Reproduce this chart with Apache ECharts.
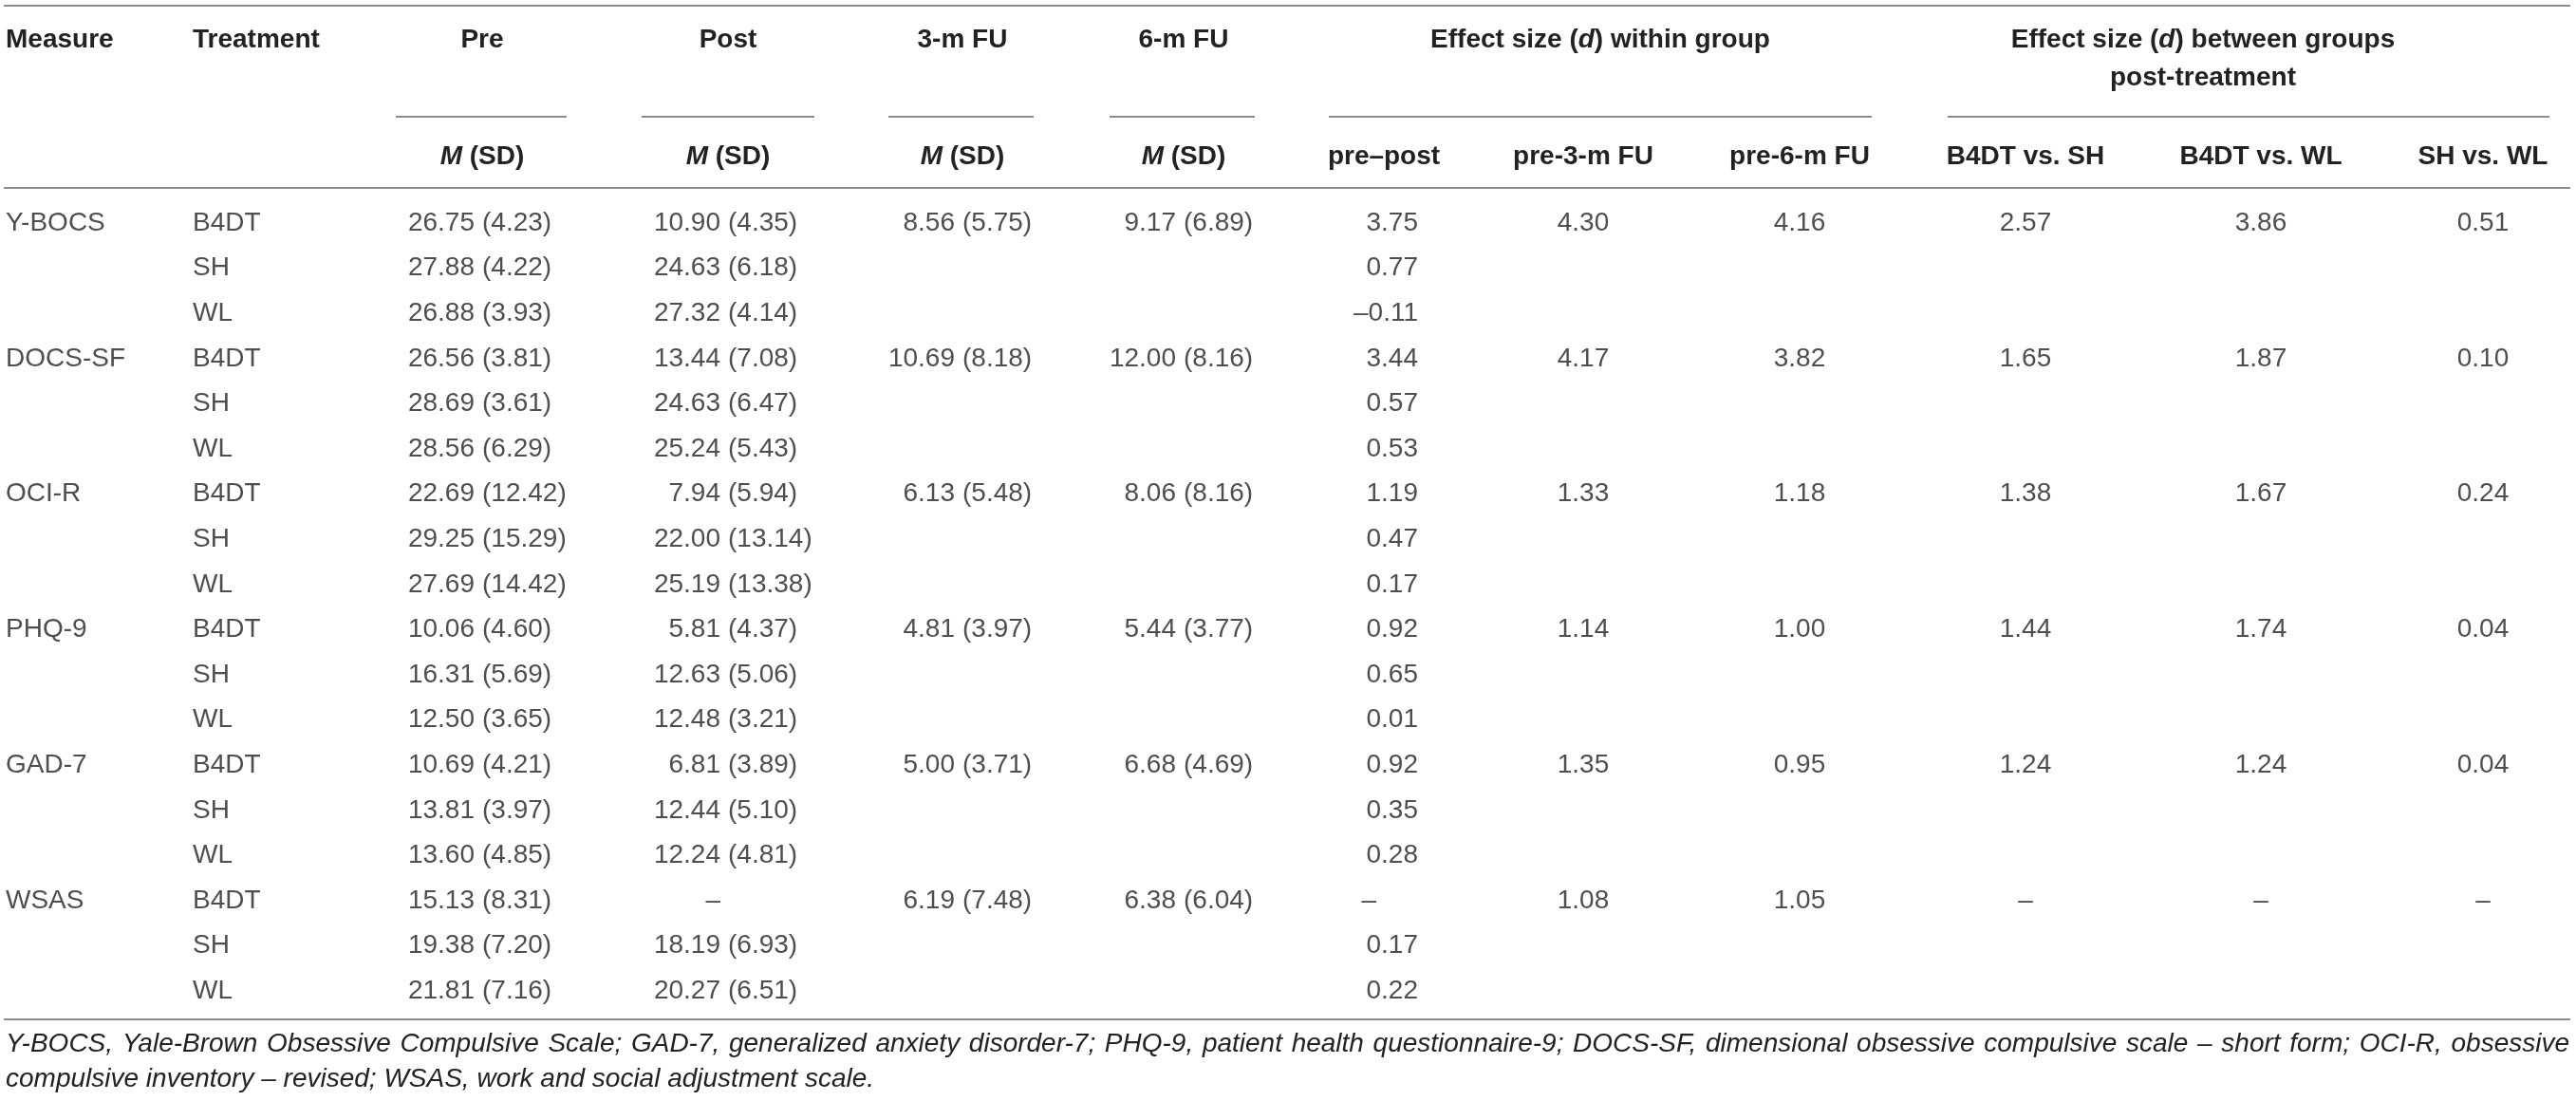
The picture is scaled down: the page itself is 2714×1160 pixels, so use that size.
<!DOCTYPE html>
<html>
<head>
<meta charset="utf-8">
<script src="https://cdn.jsdelivr.net/npm/echarts@6/dist/echarts.min.js"></script>
<style>
  html, body { margin: 0; background: #fff; }
  #table { width: 2714px; height: 1160px; }
</style>
</head>
<body>
<div id="table"></div>
<script type="application/javascript">
const measures = ['Y-BOCS', 'DOCS-SF', 'OCI-R', 'PHQ-9', 'GAD-7', 'WSAS'];
const treatments = ['B4DT', 'SH', 'WL'];

// one value per measure x treatment row (18 rows)
const preMean  = [26.75, 27.88, 26.88, 26.56, 28.69, 28.56, 22.69, 29.25, 27.69, 10.06, 16.31, 12.50, 10.69, 13.81, 13.60, 15.13, 19.38, 21.81];
const preSD    = [4.23, 4.22, 3.93, 3.81, 3.61, 6.29, 12.42, 15.29, 14.42, 4.60, 5.69, 3.65, 4.21, 3.97, 4.85, 8.31, 7.20, 7.16];
const postMean = [10.90, 24.63, 27.32, 13.44, 24.63, 25.24, 7.94, 22.00, 25.19, 5.81, 12.63, 12.48, 6.81, 12.44, 12.24, null, 18.19, 20.27];
const postSD   = [4.35, 6.18, 4.14, 7.08, 6.47, 5.43, 5.94, 13.14, 13.38, 4.37, 5.06, 3.21, 3.89, 5.10, 4.81, null, 6.93, 6.51];
const dPrePost = [3.75, 0.77, -0.11, 3.44, 0.57, 0.53, 1.19, 0.47, 0.17, 0.92, 0.65, 0.01, 0.92, 0.35, 0.28, null, 0.17, 0.22];

// one value per measure (B4DT only)
const fu3Mean = [8.56, 10.69, 6.13, 4.81, 5.00, 6.19];
const fu3SD   = [5.75, 8.18, 5.48, 3.97, 3.71, 7.48];
const fu6Mean = [9.17, 12.00, 8.06, 5.44, 6.68, 6.38];
const fu6SD   = [6.89, 8.16, 8.16, 3.77, 4.69, 6.04];
const dPre3m  = [4.30, 4.17, 1.33, 1.14, 1.35, 1.08];
const dPre6m  = [4.16, 3.82, 1.18, 1.00, 0.95, 1.05];
const dB4dtSh = [2.57, 1.65, 1.38, 1.44, 1.24, null];
const dB4dtWl = [3.86, 1.87, 1.67, 1.74, 1.24, null];
const dShWl   = [0.51, 0.10, 0.24, 0.04, 0.04, null];

const footnote = [
  'Y-BOCS, Yale-Brown Obsessive Compulsive Scale; GAD-7, generalized anxiety disorder-7; PHQ-9, patient health questionnaire-9; DOCS-SF, dimensional obsessive compulsive scale \u2013 short form; OCI-R, obsessive',
  'compulsive inventory \u2013 revised; WSAS, work and social adjustment scale.'
];

// ---- layout ----
const W = 2714, H = 1160;
const FONT = 'Liberation Sans, Arial, sans-serif';
const TEXT = '#222';
const RULE = '#8c8c8c';
const ROW_TOP = 235, ROW_STEP = 47.6;   // centre of first body row, row pitch
// x pivot of each column (pixels); mean/sd columns align on the "("
const col = {
  measure: 6, treatment: 203, pre: 508, post: 767, fu3: 1014, fu6: 1247,
  prePost: 1494, pre3m: 1668, pre6m: 1896, b4dtSh: 2134, b4dtWl: 2382, shWl: 2616
};

const rows = [];
measures.forEach(m => treatments.forEach(t => rows.push(m + ' / ' + t)));

const fmt = v => v == null ? '\u2013' : (v < 0 ? '\u2013' + Math.abs(v).toFixed(2) : v.toFixed(2));

function cellSeries(name, x, items, align, offsetX) {
  return {
    name,
    type: 'scatter',
    symbolSize: 1,
    silent: true,
    itemStyle: { color: 'transparent' },
    data: items.map(it => ({
      value: [x, it.row, it.text],
      label: it.offset ? { offset: it.offset } : undefined
    })),
    label: {
      show: true,
      position: 'inside',
      align,
      verticalAlign: 'middle',
      offset: [offsetX || 0, 0],
      formatter: p => p.value[2],
      fontFamily: FONT,
      fontSize: 28,
      color: TEXT
    }
  };
}

const allRows = values => values.map((v, i) => ({ row: i, text: fmt(v) }));
const b4dtRows = values => values.map((v, i) => ({ row: i * 3, text: fmt(v) }));
const sdText = list => list.map(it => ({ row: it.row, text: it.text === '\u2013' ? '' : '(' + it.text + ')' }));

const series = [
  cellSeries('measure', col.measure, measures.map((m, i) => ({ row: i * 3, text: m })), 'left'),
  cellSeries('treatment', col.treatment, rows.map((r, i) => ({ row: i, text: treatments[i % 3] })), 'left'),
  cellSeries('preMean', col.pre, allRows(preMean), 'right', -8),
  cellSeries('preSD', col.pre, sdText(allRows(preSD)), 'left'),
  cellSeries('postMean', col.post, allRows(postMean), 'right', -8),
  cellSeries('postSD', col.post, sdText(allRows(postSD)), 'left'),
  cellSeries('fu3Mean', col.fu3, b4dtRows(fu3Mean), 'right', -8),
  cellSeries('fu3SD', col.fu3, sdText(b4dtRows(fu3SD)), 'left'),
  cellSeries('fu6Mean', col.fu6, b4dtRows(fu6Mean), 'right', -8),
  cellSeries('fu6SD', col.fu6, sdText(b4dtRows(fu6SD)), 'left'),
  cellSeries('prePost', col.prePost,
    allRows(dPrePost).map(it => it.text === '\u2013' ? Object.assign(it, { offset: [-44, 0] }) : it), 'right'),
  cellSeries('pre3m', col.pre3m, b4dtRows(dPre3m), 'center'),
  cellSeries('pre6m', col.pre6m, b4dtRows(dPre6m), 'center'),
  cellSeries('b4dtSh', col.b4dtSh, b4dtRows(dB4dtSh), 'center'),
  cellSeries('b4dtWl', col.b4dtWl, b4dtRows(dB4dtWl), 'center'),
  cellSeries('shWl', col.shWl, b4dtRows(dShWl), 'center')
];

// ---- header, rules and footnote ----
const boldRich = {
  b: { fontFamily: FONT, fontSize: 28, fontWeight: 'bold', fill: TEXT, color: TEXT },
  i: { fontFamily: FONT, fontSize: 28, fontWeight: 'bold', fontStyle: 'italic', fill: TEXT, color: TEXT }
};
function head(text, x, y, align) {
  return {
    type: 'text', x, y, silent: true,
    style: {
      text, rich: boldRich, fill: TEXT,
      font: 'bold 28px ' + FONT,
      align: align || 'center', textAlign: align || 'center',
      verticalAlign: 'middle', textVerticalAlign: 'middle'
    }
  };
}
function rule(x1, x2, y) {
  return { type: 'line', silent: true, shape: { x1, y1: y, x2, y2: y }, style: { stroke: RULE, lineWidth: 2 } };
}

// footnote: first line is justified across the table width
const noteFont = 'italic 28px ' + FONT;
const ctx = document.createElement('canvas').getContext('2d');
ctx.font = noteFont;
function noteText(text, x, y) {
  return {
    type: 'text', x, y, silent: true,
    style: {
      text, fill: TEXT, font: noteFont,
      align: 'left', textAlign: 'left',
      verticalAlign: 'middle', textVerticalAlign: 'middle'
    }
  };
}
function justified(line, x0, x1, y) {
  const words = line.split(' ');
  const widths = words.map(w => ctx.measureText(w).width);
  const gap = (x1 - x0 - widths.reduce((a, b) => a + b, 0)) / (words.length - 1);
  let x = x0;
  return words.map((w, i) => {
    const el = noteText(w, x, y);
    x += widths[i] + gap;
    return el;
  });
}

const hy1 = 42, hy2 = 165;
const graphic = [
  rule(4, 2708, 6), rule(4, 2708, 198), rule(4, 2708, 1074),
  rule(417, 597, 123), rule(676, 858, 123), rule(936, 1089, 123), rule(1169, 1322, 123),
  rule(1400, 1972, 123), rule(2052, 2686, 123),
  head('{b|Measure}', col.measure, hy1, 'left'),
  head('{b|Treatment}', col.treatment, hy1, 'left'),
  head('{b|Pre}', col.pre, hy1),
  head('{b|Post}', col.post, hy1),
  head('{b|3-m FU}', col.fu3, hy1),
  head('{b|6-m FU}', col.fu6, hy1),
  head('{b|Effect size (}{i|d}{b|) within group}', 1686, hy1),
  head('{b|Effect size (}{i|d}{b|) between groups}', 2321, hy1),
  head('{b|post-treatment}', 2321, 82),
  head('{i|M}{b| (SD)}', col.pre, hy2),
  head('{i|M}{b| (SD)}', col.post, hy2),
  head('{i|M}{b| (SD)}', col.fu3, hy2),
  head('{i|M}{b| (SD)}', col.fu6, hy2),
  head('{b|pre\u2013post}', 1458, hy2),
  head('{b|pre-3-m FU}', col.pre3m, hy2),
  head('{b|pre-6-m FU}', col.pre6m, hy2),
  head('{b|B4DT vs. SH}', col.b4dtSh, hy2),
  head('{b|B4DT vs. WL}', col.b4dtWl, hy2),
  head('{b|SH vs. WL}', col.shWl, hy2)
].concat(justified(footnote[0], 6, 2707, 1100), [noteText(footnote[1], 6, 1137)]);

const chart = echarts.init(document.getElementById('table'), null, { renderer: 'canvas' });
chart.setOption({
  animation: false,
  backgroundColor: '#fff',
  grid: {
    left: 0, right: 0,
    top: ROW_TOP - ROW_STEP / 2,
    bottom: H - (ROW_TOP - ROW_STEP / 2) - rows.length * ROW_STEP
  },
  xAxis: { type: 'value', min: 0, max: W, show: false },
  yAxis: { type: 'category', data: rows, inverse: true, show: false },
  graphic,
  series
});
</script>
</body>
</html>
